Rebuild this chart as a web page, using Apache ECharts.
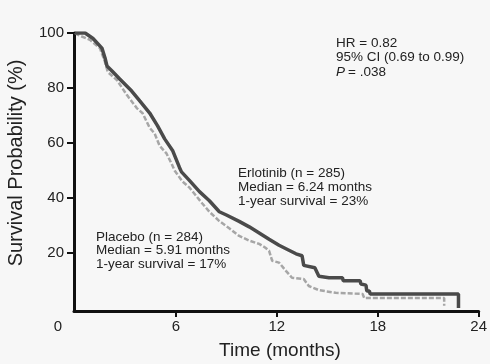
<!DOCTYPE html>
<html>
<head>
<meta charset="utf-8">
<script src="https://cdn.jsdelivr.net/npm/echarts@6/dist/echarts.min.js"></script>
<style>
html,body{margin:0;padding:0;background:#f7f7f7;}
#c{width:490px;height:364px;}
</style>
</head>
<body>
<div id="c"></div>
<script>
// Time (months) and survival probability (%)
var erlotinibTime = [0,0.6,1.07,1.6,1.78,1.9,2.2,2.66,3.37,3.85,4.44,4.91,5.33,5.8,6.21,6.33,6.8,7.4,7.99,8.58,9.0,9.76,10.36,10.95,11.54,12.13,12.72,13.14,13.5,13.6,14.26,14.5,15.1,15.9,15.95,16.95,17.0,17.3,17.35,17.5,17.55,22.8,22.8];
var erlotinibSurv = [100,100,98,94.5,91,88,86.2,83.3,78.9,75.3,70.9,66.2,61.5,57.3,51.1,49.5,46.4,42.3,39,35,33.8,31.5,29.5,27.3,25,22.8,21,19.7,19,15.5,14.6,11.5,11,11,9.9,9.9,8.7,8.3,6.2,6.2,5.1,5.1,0];
var placeboTime = [0,0.18,0.89,1.48,1.78,1.95,2.49,3.08,3.67,4.02,4.44,4.73,5.03,5.44,5.74,5.92,6.39,6.8,7.57,7.99,8.58,9.17,9.76,10.36,10.95,11.3,11.54,11.72,12.13,12.54,12.9,13.6,13.9,14.5,15.5,17.1,17.2,21.95,21.95];
var placeboSurv = [100,99.3,97.5,94.5,89.5,85.8,82.9,77.5,72.7,70.8,65.5,63.5,59,56.2,52.5,50,46,43.8,38,35,31.6,29,26.2,24.5,23.3,22,20.8,17.2,16.5,13.5,11,10.5,8,6.5,5.5,5.1,3.6,3.6,0.8];
var xTicks = [6,12,18,24];
var yTicks = [20,40,60,80,100];
var erlotinibText = ['Erlotinib (n = 285)','Median = 6.24 months','1-year survival = 23%'];
var placeboText = ['Placebo (n = 284)','Median = 5.91 months','1-year survival = 17%'];
var statsText = ['HR = 0.82','95% CI (0.69 to 0.99)'];

function pairs(t, s){ return t.map(function(v,i){ return [v, s[i]]; }); }

var FONT = '"Liberation Sans", Arial, Helvetica, sans-serif';
var chart = echarts.init(document.getElementById('c'), null, {renderer:'canvas'});

var graphics = [];
function txt(x, y, s, size, extra){
  var st = {x:x, y:y, text:s, fill:'#222', font:(extra||'') + size + 'px ' + FONT, textVerticalAlign:'middle'};
  return {type:'text', style:st, silent:true};
}
erlotinibText.forEach(function(s,i){ graphics.push(txt(238, 173 + i*14, s, 13.5)); });
placeboText.forEach(function(s,i){ graphics.push(txt(96, 237 + i*13.5, s, 13.5)); });
statsText.forEach(function(s,i){ graphics.push(txt(336, 43 + i*14.5, s, 13.5)); });
graphics.push(txt(336, 72, 'P', 13.5, 'italic '));
graphics.push(txt(348, 72, '= .038', 13.5));
graphics.push({type:'text', silent:true, style:{x:58, y:327, text:'0', fill:'#222', font:'15px ' + FONT, textAlign:'center', textVerticalAlign:'middle'}});
graphics.push({type:'text', silent:true, rotation:Math.PI/2, x:16, y:163, style:{x:0, y:0, text:'Survival Probability (%)', fill:'#222', font:'20px ' + FONT, textAlign:'center', textVerticalAlign:'middle'}});
graphics.push({type:'text', silent:true, style:{x:280, y:351, text:'Time (months)', fill:'#222', font:'19px ' + FONT, textAlign:'center', textVerticalAlign:'middle'}});

chart.setOption({
  backgroundColor:'#f7f7f7',
  animation:false,
  grid:{left:74, right:9, top:33, bottom:53},
  xAxis:{
    type:'value', min:-0.06, max:24,
    axisLine:{show:true, onZero:false, lineStyle:{color:'#111', width:3}},
    axisTick:{show:true, customValues:xTicks, length:6, lineStyle:{color:'#111', width:2}},
    axisLabel:{customValues:xTicks, color:'#222', fontSize:15, fontFamily:FONT, margin:8},
    splitLine:{show:false}
  },
  yAxis:{
    type:'value', min:-1.1, max:100,
    axisLine:{show:true, onZero:false, lineStyle:{color:'#111', width:3}},
    axisTick:{show:true, customValues:yTicks, length:7, lineStyle:{color:'#111', width:2}},
    axisLabel:{customValues:yTicks, color:'#222', fontSize:15, fontFamily:FONT, margin:10},
    splitLine:{show:false}
  },
  series:[
    {type:'line', name:'Placebo', data:pairs(placeboTime, placeboSurv), showSymbol:false, symbol:'none',
     lineStyle:{color:'#a6a6a6', width:2.5, type:[5,2]}},
    {type:'line', name:'Erlotinib', data:pairs(erlotinibTime, erlotinibSurv), showSymbol:false, symbol:'none',
     lineStyle:{color:'#4a4a4a', width:3.5}}
  ],
  graphic:graphics
});
</script>
</body>
</html>
